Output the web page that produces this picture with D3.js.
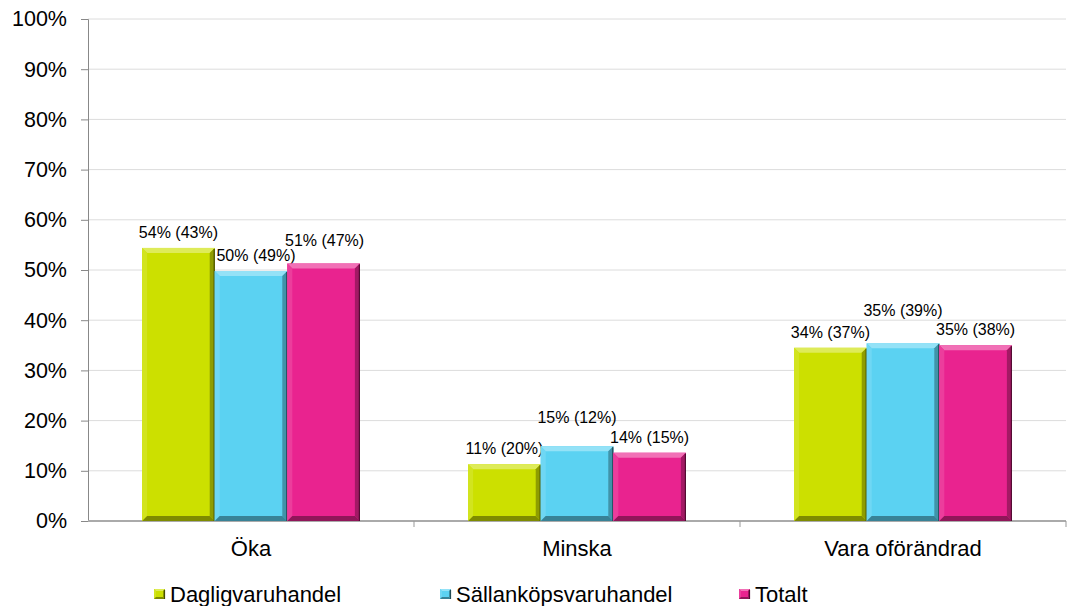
<!DOCTYPE html>
<html>
<head>
<meta charset="utf-8">
<script src="https://cdn.jsdelivr.net/npm/d3@7"></script>
<style>
  body { margin: 0; background: #fff; }
  text { font-family: "Liberation Sans", Arial, sans-serif; fill: #000; }
</style>
</head>
<body>
<div id="chart"></div>
<script>
// data
var categories = ["Öka", "Minska", "Vara oförändrad"];
var seriesNames = ["Dagligvaruhandel", "Sällanköpsvaruhandel", "Totalt"];
var dagligvaror = [54.4, 11.3, 34.5];
var sallankop = [49.8, 14.9, 35.4];
var totalt = [51.3, 13.6, 35.0];
var labelTexts = [
  ["54% (43%)", "11% (20%)", "34% (37%)"],
  ["50% (49%)", "15% (12%)", "35% (39%)"],
  ["51% (47%)", "14% (15%)", "35% (38%)"]
];
var yTicks = [0, 10, 20, 30, 40, 50, 60, 70, 80, 90, 100];
var colors = ["#cce000", "#5bd2f2", "#e9238f"];
// extra lift / shift for labels excel moved to avoid overlap [series][cat] = [dx, dy]
var labelNudge = [
  [[0, 0], [0, 0], [0, 0]],
  [[5, 0], [0, -13], [0, -17]],
  [[1, -7], [0, 0], [0, 0]]
];

var W = 1072, H = 606;
var margin = {top: 19, right: 6, bottom: 85, left: 88};

var svg = d3.select("#chart").append("svg")
  .attr("width", W).attr("height", H);

var x0 = d3.scaleBand().domain(categories)
  .range([margin.left, W - margin.right]).padding(0);
var gap = x0.bandwidth() * 0.166;
var x1 = d3.scaleBand().domain(seriesNames)
  .range([gap, x0.bandwidth() - gap]).padding(0);
var y = d3.scaleLinear().domain([0, 100]).range([H - margin.bottom, margin.top]);

// gridlines
svg.append("g").selectAll("line").data(yTicks.slice(1)).join("line")
  .attr("x1", margin.left).attr("x2", W - margin.right)
  .attr("y1", d => y(d)).attr("y2", d => y(d))
  .attr("stroke", "#dcdcdc").attr("stroke-width", 1);

// y axis
var yAxis = svg.append("g").attr("transform", "translate(" + margin.left + ",0)")
  .call(d3.axisLeft(y).tickValues(yTicks).tickFormat(d => d + "%").tickSize(7).tickPadding(14));
yAxis.select(".domain").attr("stroke", "#888");
yAxis.selectAll(".tick line").attr("stroke", "#888");
yAxis.selectAll("text").style("font-size", "21.5px");

// x axis
var xAxis = svg.append("g").attr("transform", "translate(0," + y(0) + ")");
xAxis.append("line")
  .attr("x1", margin.left).attr("x2", W - margin.right)
  .attr("stroke", "#aaa").attr("stroke-width", 2);
xAxis.selectAll(".sep").data(categories).join("line").attr("class", "sep")
  .attr("x1", d => x0(d) + x0.bandwidth()).attr("x2", d => x0(d) + x0.bandwidth())
  .attr("y1", 0).attr("y2", 6).attr("stroke", "#999");
xAxis.selectAll(".cat").data(categories).join("text").attr("class", "cat")
  .attr("x", d => x0(d) + x0.bandwidth() / 2).attr("y", 35)
  .attr("text-anchor", "middle").style("font-size", "22px").text(d => d);

function shade(c, k) {
  return k > 0 ? d3.interpolateRgb(c, "#fff")(k) : d3.interpolateRgb(c, "#000")(-k);
}

// bevelled box
function bevelBox(g, bx, by, bw, bh, col, b) {
  g.append("rect").attr("x", bx).attr("y", by).attr("width", bw).attr("height", bh).attr("fill", col);
  var x2 = bx + bw, y2 = by + bh;
  g.append("polygon").attr("points", [[bx, by], [x2, by], [x2 - b, by + b], [bx + b, by + b]].join(" "))
    .attr("fill", shade(col, 0.35));
  g.append("polygon").attr("points", [[bx, by], [bx + b, by + b], [bx + b, y2 - b], [bx, y2]].join(" "))
    .attr("fill", shade(col, 0.12));
  g.append("polygon").attr("points", [[x2, by], [x2, y2], [x2 - b, y2 - b], [x2 - b, by + b]].join(" "))
    .attr("fill", shade(col, -0.3));
  g.append("polygon").attr("points", [[bx, y2], [x2, y2], [x2 - b, y2 - b], [bx + b, y2 - b]].join(" "))
    .attr("fill", shade(col, -0.38));
  g.append("line").attr("x1", x2 - 0.5).attr("x2", x2 - 0.5).attr("y1", by + 1).attr("y2", y2)
    .attr("stroke", shade(col, -0.65)).attr("stroke-width", 1.2);
}

var allSeries = [dagligvaror, sallankop, totalt];
allSeries.forEach(function(vals, s) {
  var g = svg.append("g");
  vals.forEach(function(v, c) {
    var bx = x0(categories[c]) + x1(seriesNames[s]);
    bevelBox(g, bx, y(v), x1.bandwidth(), y(0) - y(v), colors[s], 5);
  });
  g.selectAll("text").data(vals).join("text")
    .attr("x", (d, c) => x0(categories[c]) + x1(seriesNames[s]) + x1.bandwidth() / 2 + labelNudge[s][c][0])
    .attr("y", (d, c) => y(d) - 10 + labelNudge[s][c][1])
    .attr("text-anchor", "middle").style("font-size", "16px")
    .text((d, c) => labelTexts[s][c]);
});

// legend
var legendX = [154, 440, 739];
var legend = svg.append("g");
seriesNames.forEach(function(n, i) {
  bevelBox(legend, legendX[i], 589, 11, 10, colors[i], 2);
  legend.append("text").attr("x", legendX[i] + 16).attr("y", 602)
    .style("font-size", "22px").text(n);
});
</script>
</body>
</html>
